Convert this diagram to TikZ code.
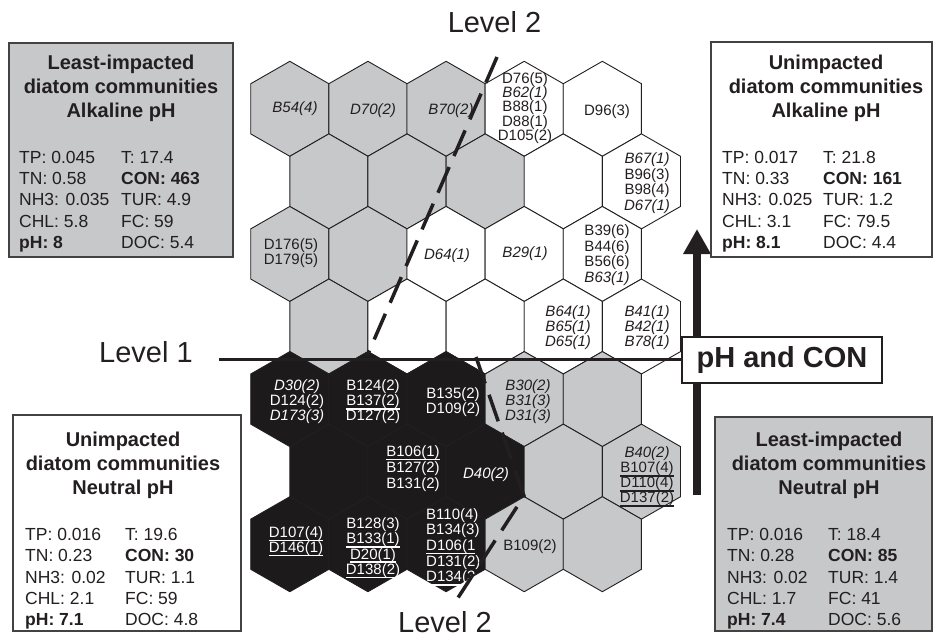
\documentclass[tikz,border=0pt]{standalone}
\usepackage{fontspec}
\setmainfont{Liberation Sans}
\usetikzlibrary{arrows.meta,positioning}

\definecolor{hexgray}{RGB}{199,200,202}
\definecolor{hexblack}{RGB}{28,26,27}
\definecolor{inkdark}{RGB}{35,31,32}

% underlined taxon code, line spacing kept
\newcommand{\hexul}[1]{\smash{\setbox0=\hbox{#1}\rlap{\raisebox{-3.8pt}{\rule{\wd0}{1.5pt}}}\box0}}

% one SOM cell: column, row, colour
\newcommand{\somcell}[3]{%
  \pgfmathsetmacro{\cx}{289.8+78.14*#1+39.07*mod(#2+1,2)}
  \pgfmathsetmacro{\cy}{108.8+72.57*(#2-1)}
  \draw[cell#3] (\cx,\cy-47.5) -- ++(39.07,22.43) -- ++(0,50.14) -- ++(-39.07,22.43)
    -- ++(-39.07,-22.43) -- ++(0,-50.14) -- cycle;
}

\begin{document}
\begin{tikzpicture}[x=1pt, y=-1pt,
  cell/.style={draw=inkdark, line width=0.9pt},
  cellgray/.style={cell, fill=hexgray},
  cellwhite/.style={cell, fill=white},
  cellblack/.style={cell, fill=hexblack},
  celltext/.style={inner sep=0pt, align=center, text=inkdark, font=\fontsize{15}{15.5}\selectfont},
  celltextw/.style={celltext, text=white},
  infobox/.style={draw=inkdark!85, line width=1.2pt, inner sep=0pt},
  infotitle/.style={inner sep=0pt, align=center, text=inkdark, font=\bfseries\fontsize{20}{24}\selectfont},
  infodata/.style={inner sep=0pt, align=left, anchor=west, text=inkdark, font=\fontsize{17.5}{21.3}\selectfont},
  levellabel/.style={inner sep=0pt, text=inkdark, font=\fontsize{29}{29}\selectfont},
  levelone/.style={draw=inkdark, line width=3pt},
  leveltwo/.style={draw=inkdark, line width=3.5pt, dash pattern=on 28pt off 12pt},
]
\useasboundingbox (0,0) rectangle (933,639);

% SOM map, 7 rows of 5 cells
\foreach \c/\k in {0/gray,1/gray,2/gray,3/white,4/white} {\somcell{\c}{1}{\k}}
\foreach \c/\k in {0/gray,1/gray,2/gray,3/white,4/white} {\somcell{\c}{2}{\k}}
\foreach \c/\k in {0/gray,1/gray,2/white,3/white,4/white} {\somcell{\c}{3}{\k}}
\foreach \c/\k in {0/gray,1/white,2/white,3/white,4/white} {\somcell{\c}{4}{\k}}
\foreach \c/\k in {0/black,1/black,2/black,3/gray,4/gray} {\somcell{\c}{5}{\k}}
\foreach \c/\k in {0/black,1/black,2/black,3/gray,4/gray} {\somcell{\c}{6}{\k}}
\foreach \c/\k in {0/black,1/black,2/black,3/gray,4/gray} {\somcell{\c}{7}{\k}}

% taxa in the cells
\node[celltext] (cB54) at (295,109) {\textit{B54(4)}};
\node[celltext] (cD70) at (373,111) {\textit{D70(2)}};
\node[celltext] (cB70) at (451,111) {\textit{B70(2)}};
\node[celltext, font=\fontsize{15}{14.3}\selectfont] (cD76) at (525,108) {D76(5)\\\textit{B62(1)}\\B88(1)\\D88(1)\\D105(2)};
\node[celltext] (cD96) at (607,112) {D96(3)};
\node[celltext] (cB67) at (647,183) {\textit{B67(1)}\\B96(3)\\B98(4)\\\textit{D67(1)}};
\node[celltext, font=\fontsize{15}{13.3}\selectfont] (cD176) at (291,253) {D176(5)\\D179(5)};
\node[celltext] (cD64) at (447,256) {\textit{D64(1)}};
\node[celltext] (cB29) at (525,254) {\textit{B29(1)}};
\node[celltext] (cB39) at (607,255) {B39(6)\\B44(6)\\B56(6)\\\textit{B63(1)}};
\node[celltext, font=\fontsize{15}{15}\selectfont] (cB64) at (568,328) {\textit{B64(1)}\\\textit{B65(1)}\\\textit{D65(1)}};
\node[celltext, font=\fontsize{15}{15}\selectfont] (cB41) at (647,328) {\textit{B41(1)}\\\textit{B42(1)}\\\textit{B78(1)}};
\node[celltextw, font=\fontsize{15}{15}\selectfont] (cD30) at (297,402) {\textit{D30(2)}\\D124(2)\\\textit{D173(3)}};
\node[celltextw, font=\fontsize{15}{15}\selectfont] (cB124) at (373,402) {B124(2)\\\hexul{B137(2)}\\D127(2)};
\node[celltextw, font=\fontsize{15}{15}\selectfont] (cB135) at (453,402) {B135(2)\\D109(2)};
\node[celltext, font=\fontsize{15}{15}\selectfont] (cB30) at (528,402) {\textit{B30(2)}\\\textit{B31(3)}\\\textit{D31(3)}};
\node[celltextw, font=\fontsize{15}{16}\selectfont] (cB106) at (413,474) {\hexul{B106(1)}\\B127(2)\\B131(2)};
\node[celltextw] (cD40) at (486,475) {\textit{D40(2)}};
\node[celltext, font=\fontsize{15}{15}\selectfont] (cB40) at (647,475) {\textit{B40(2)}\\\hexul{B107(4)}\\\hexul{D110(4)}\\\hexul{D137(2)}};
\node[celltextw, font=\fontsize{15}{15}\selectfont] (cD107) at (296,545) {\hexul{D107(4)}\\\hexul{D146(1)}};
\node[celltextw, font=\fontsize{15}{15.3}\selectfont] (cB128) at (373,546) {B128(3)\\\hexul{B133(1)}\\\hexul{D20(1)}\\\hexul{D138(2)}};
\node[celltextw, align=left, anchor=west, font=\fontsize{15}{15.7}\selectfont] (cB110) at (426,545) {B110(4)\\B134(3)\\\hexul{D106(1}\\D131(2)\\\hexul{D134(3}};
\node[celltext] (cB109) at (530,547) {B109(2)};

% cut levels
\node[levellabel] (lvlOne) at (146,352) {Level 1};
\node[levellabel] (lvlTwoTop) at (494.5,22) {Level 2};
\node[levellabel] (lvlTwoBot) at (445,622) {Level 2};

\coordinate (arrowFoot) at (697,495);
\coordinate (arrowTip) at (697,229);
\draw[inkdark, line width=8pt, -{Triangle[width=26pt,length=25pt]}] (arrowFoot) -- (arrowTip);

\node[draw=inkdark, fill=white, line width=1.2pt, minimum width=200pt, minimum height=46pt,
  font=\bfseries\fontsize{29}{29}\selectfont, text=inkdark] (phBox) at (782,360) {pH and CON};

\coordinate (cutOne) at (219,359);
\draw[levelone] (cutOne) -- (cutOne -| phBox.west);

\coordinate (cutTopA) at (497,57);
\coordinate (cutTopB) at (367,356);
\draw[leveltwo] (cutTopA) -- (cutTopB);
\coordinate (cutBotA) at (476,357);
\coordinate (cutBotB) at (524,496);
\coordinate (cutBotC) at (452,607);
\draw[leveltwo] (cutBotA) -- (cutBotB) -- (cutBotC);

% water quality of the four groups
\node[infobox, fill=hexgray, minimum width=224pt, minimum height=214pt] (leastAlk) at (121,150) {};
\node[infotitle] (leastAlkT) at (121,88) {Least-impacted\\diatom communities\\Alkaline pH};
\node[infodata] (leastAlkL) at (19,201.5) {\strut TP: 0.045\\TN: 0.58\\NH3: 0.035\\CHL: 5.8\\\textbf{pH: 8}\strut};
\node[infodata] (leastAlkR) at (121,201.5) {\strut T: 17.4\\\textbf{CON: 463}\\TUR: 4.9\\FC: 59\\DOC: 5.4\strut};

\node[infobox, fill=white, minimum width=221pt, minimum height=215pt] (unimpAlk) at (821.5,149.5) {};
\node[infotitle] (unimpAlkT) at (826,88) {Unimpacted\\diatom communities\\Alkaline pH};
\node[infodata] (unimpAlkL) at (722,201.5) {\strut TP: 0.017\\TN: 0.33\\NH3: 0.025\\CHL: 3.1\\\textbf{pH: 8.1}\strut};
\node[infodata] (unimpAlkR) at (823,201.5) {\strut T: 21.8\\\textbf{CON: 161}\\TUR: 1.2\\FC: 79.5\\DOC: 4.4\strut};

\node[infobox, fill=white, minimum width=228pt, minimum height=216pt] (unimpNeu) at (127,523) {};
\node[infotitle] (unimpNeuT) at (123,465) {Unimpacted\\diatom communities\\Neutral pH};
\node[infodata] (unimpNeuL) at (25,579) {\strut TP: 0.016\\TN: 0.23\\NH3: 0.02\\CHL: 2.1\\\textbf{pH: 7.1}\strut};
\node[infodata] (unimpNeuR) at (125,579) {\strut T: 19.6\\\textbf{CON: 30}\\TUR: 1.1\\FC: 59\\DOC: 4.8\strut};

\node[infobox, fill=hexgray, minimum width=217pt, minimum height=214pt] (leastNeu) at (823.5,524) {};
\node[infotitle] (leastNeuT) at (829,465) {Least-impacted\\diatom communities\\Neutral pH};
\node[infodata] (leastNeuL) at (727,579) {\strut TP: 0.016\\TN: 0.28\\NH3: 0.02\\CHL: 1.7\\\textbf{pH: 7.4}\strut};
\node[infodata] (leastNeuR) at (828,579) {\strut T: 18.4\\\textbf{CON: 85}\\TUR: 1.4\\FC: 41\\DOC: 5.6\strut};
\end{tikzpicture}
\end{document}
